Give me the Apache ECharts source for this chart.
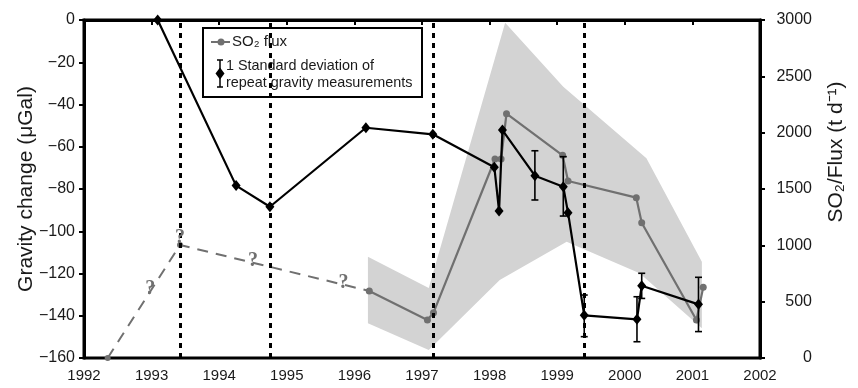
<!DOCTYPE html>
<html><head><meta charset="utf-8">
<script src="https://cdn.jsdelivr.net/npm/echarts@6/dist/echarts.min.js"></script>
<style>html,body{margin:0;padding:0;background:#fff}#c{width:858px;height:388px}</style>
</head><body><div id="c"></div>
<script>
// ---- data ----
const gravityData = [[1993.09,0],[1994.25,-78.4],[1994.75,-88.4],[1996.17,-51],[1997.16,-54.1],
  [1998.07,-69.7],[1998.14,-90.4],[1998.19,-52.1],[1998.67,-73.7],[1999.09,-78.9],[1999.16,-91.2],
  [1999.40,-139.8],[2000.18,-141.7],[2000.25,-125.8],[2001.09,-134.6]];
const gravityErr = [[1998.67,-61.9,-85.2],[1999.09,-64.7,-92.8],[1999.40,-130.2,-149.9],
  [2000.18,-131,-152.3],[2000.25,-119.9,-131.8],[2001.09,-121.8,-147.5]];
const so2Data = [[1996.22,595],[1997.08,337],[1997.17,402],[1998.08,1766],[1998.17,1766],[1998.25,2169],
  [1999.08,1799],[1999.16,1571],[2000.17,1423],[2000.25,1201],[2001.06,337],[2001.16,627]];
const so2Early = [[1992.35,0],[1993.42,1003],[1996.22,595]];
const bandUpper = [[1996.2,899],[1997.1,621],[1998.23,2975],[1999.09,2408],[2000.32,1772],[2001.14,855]];
const bandLower = [[2001.14,263],[2000.22,752],[1999.14,1032],[1998.15,692],[1997.1,71],[1996.2,308]];
const questionMarks = [[1992.98,612],[1993.42,1065],[1994.50,861],[1995.84,663]];
const eventYears = [1993.42,1994.75,1997.16,1999.40];
const xTicks = {min:1992, max:2002, step:1};
const gravTicks = {min:-160, max:0, step:20};
const fluxTicks = {min:0, max:3000, step:500};

const FONT = '"Liberation Sans", Arial, sans-serif';
const TXT = '#1a1a1a';
const chart = echarts.init(document.getElementById('c'), null, {renderer:'canvas'});
const minus = v => v < 0 ? '\u2212' + (-v) : String(v);
const plain = v => String(v);

chart.setOption({
  animation:false,
  grid:{left:84, right:98, top:20, bottom:30, show:true, borderColor:'#000', borderWidth:3},
  xAxis:{type:'value', min:xTicks.min, max:xTicks.max, interval:xTicks.step,
    axisLine:{lineStyle:{color:'#000', width:3}},
    axisTick:{show:true, length:5, lineStyle:{color:'#000', width:2}},
    axisLabel:{color:TXT, fontSize:15, fontFamily:FONT, margin:10, formatter:plain},
    splitLine:{show:false}},
  yAxis:[
    {type:'value', min:gravTicks.min, max:gravTicks.max, interval:gravTicks.step, position:'left',
      name:'Gravity change (\u03bcGal)', nameLocation:'middle', nameGap:47, nameMoveOverlap:false,
      nameTextStyle:{color:TXT, fontSize:21, fontFamily:FONT},
      axisLine:{show:true, lineStyle:{color:'#000', width:3}},
      axisTick:{show:true, length:5, lineStyle:{color:'#000', width:2}},
      axisLabel:{color:TXT, fontSize:16, fontFamily:FONT, margin:9, formatter:minus},
      splitLine:{show:false}},
    {type:'value', min:fluxTicks.min, max:fluxTicks.max, interval:fluxTicks.step, position:'right',
      axisLine:{show:true, lineStyle:{color:'#000', width:3}},
      axisTick:{show:true, length:5, lineStyle:{color:'#000', width:2}},
      axisLabel:{color:TXT, fontSize:16, fontFamily:FONT, margin:52, align:'right', formatter:plain},
      splitLine:{show:false}}
  ],
  series:[
    {type:'custom', yAxisIndex:1, z:1, silent:true,
      data:[bandUpper[0]],
      renderItem:function(params, api){
        const pts = bandUpper.concat(bandLower).map(p => api.coord(p));
        return {type:'polygon', shape:{points:pts}, style:{fill:'#d3d3d3'}};
      }},
    {type:'line', yAxisIndex:1, z:3, data:so2Early, symbol:'circle', symbolSize:6,
      showAllSymbol:true, clip:false,
      itemStyle:{color:'#707070'},
      lineStyle:{color:'#707070', width:2, type:[11,8]}},
    {type:'line', yAxisIndex:1, z:4, data:so2Data, symbol:'circle', symbolSize:7,
      itemStyle:{color:'#707070'}, lineStyle:{color:'#707070', width:2.2}},
    {type:'custom', yAxisIndex:1, z:5, silent:true, data:questionMarks,
      renderItem:function(params, api){
        const p = api.coord([api.value(0), api.value(1)]);
        return {type:'text', x:p[0], y:p[1], style:{text:'?', fill:'#707070',
          font:'bold 20px "Liberation Serif", "DejaVu Serif", serif', align:'center', verticalAlign:'middle'}};
      }},
    {type:'line', yAxisIndex:0, z:6, data:gravityData, symbol:'diamond', symbolSize:[9,11],
      clip:false,
      itemStyle:{color:'#000'}, lineStyle:{color:'#000', width:2.2},
      markLine:{silent:true, symbol:['none','none'], label:{show:false},
        lineStyle:{type:[5,5], color:'#000', width:3},
        data:eventYears.map(v => ({xAxis:v}))}},
    {type:'custom', yAxisIndex:0, z:7, silent:true, data:gravityErr, encode:{x:0, y:[1,2]},
      renderItem:function(params, api){
        const x = api.value(0);
        const a = api.coord([x, api.value(1)]);
        const b = api.coord([x, api.value(2)]);
        const w = 3.5, st = {stroke:'#000', lineWidth:1.6};
        return {type:'group', children:[
          {type:'line', shape:{x1:a[0], y1:a[1], x2:b[0], y2:b[1]}, style:st},
          {type:'line', shape:{x1:a[0]-w, y1:a[1], x2:a[0]+w, y2:a[1]}, style:st},
          {type:'line', shape:{x1:b[0]-w, y1:b[1], x2:b[0]+w, y2:b[1]}, style:st}
        ]};
      }}
  ],
  graphic:[
    {type:'group', z:100, children:[
      {type:'rect', shape:{x:203, y:28, width:219, height:69}, style:{fill:'#fff', stroke:'#000', lineWidth:2}},
      {type:'line', shape:{x1:211, y1:42, x2:230, y2:42}, style:{stroke:'#707070', lineWidth:2}},
      {type:'circle', shape:{cx:221, cy:42, r:3.5}, style:{fill:'#707070'}},
      {type:'text', x:232, y:42, style:{text:'SO\u2082 flux', fill:TXT, font:'15px ' + FONT, verticalAlign:'middle'}},
      {type:'line', shape:{x1:220, y1:60, x2:220, y2:87}, style:{stroke:'#000', lineWidth:1.5}},
      {type:'line', shape:{x1:217, y1:60, x2:223, y2:60}, style:{stroke:'#000', lineWidth:1.5}},
      {type:'line', shape:{x1:217, y1:87, x2:223, y2:87}, style:{stroke:'#000', lineWidth:1.5}},
      {type:'polygon', shape:{points:[[220,67.5],[224.5,73.5],[220,79.5],[215.5,73.5]]}, style:{fill:'#000'}},
      {type:'text', x:226, y:66, style:{text:'1 Standard deviation of', fill:TXT, font:'14.4px ' + FONT, verticalAlign:'middle'}},
      {type:'text', x:226, y:83, style:{text:'repeat gravity measurements', fill:TXT, font:'14.4px ' + FONT, verticalAlign:'middle'}}
    ]},
    {type:'text', x:836, y:152, rotation:Math.PI/2, z:100,
      style:{text:'SO\u2082/Flux (t d\u207b\u00b9)', fill:TXT, font:'21px ' + FONT, align:'center', verticalAlign:'middle'}}
  ]
});
</script>
</body></html>
